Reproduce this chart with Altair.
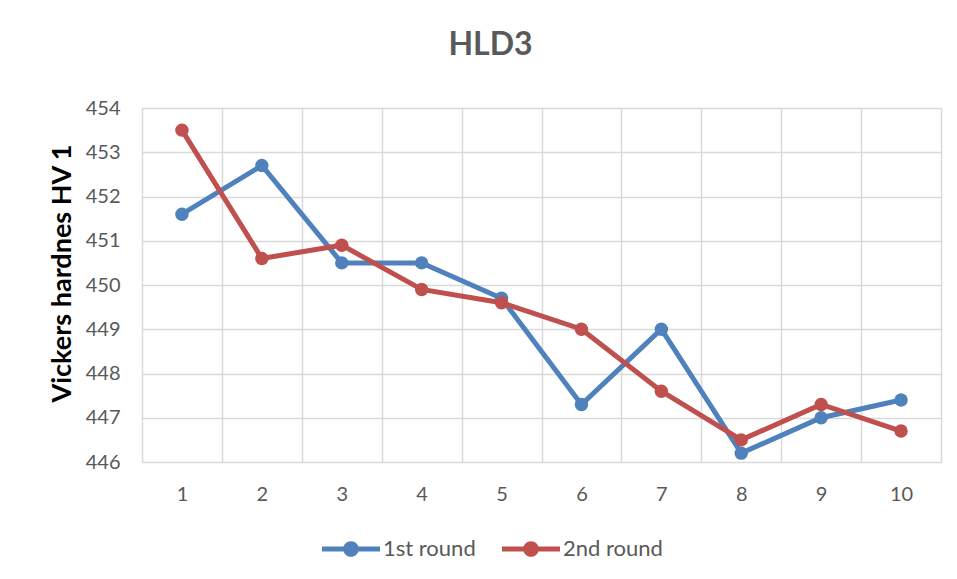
import altair as alt
import pandas as pd

samples = [1, 2, 3, 4, 5, 6, 7, 8, 9, 10]
round1 = [451.6, 452.7, 450.5, 450.5, 449.7, 447.3, 449.0, 446.2, 447.0, 447.4]
round2 = [453.5, 450.6, 450.9, 449.9, 449.6, 449.0, 447.6, 446.5, 447.3, 446.7]
series_names = ["1st round", "2nd round"]
series_colors = ["#4F81BD", "#C0504D"]
y_ticks = [446, 447, 448, 449, 450, 451, 452, 453, 454]

rows = []
for s, vals in zip(series_names, [round1, round2]):
    for x, v in zip(samples, vals):
        rows.append({"sample": x, "value": v, "series": s})
df = pd.DataFrame(rows)

FONT = "Lato"
GREY = "#595959"
GRID = "#D9D9D9"

legend_path = ("M-1,-0.086H1V0.086H-1Z "
               "M-0.27,0A0.27,0.27,0,1,1,0.27,0A0.27,0.27,0,1,1,-0.27,0Z")

x_enc = alt.X("sample:O", sort=samples,
              scale=alt.Scale(paddingInner=0, paddingOuter=0),
              axis=alt.Axis(title=None, labelAngle=0, tickBand="extent", grid=True,
                            gridColor=GRID, gridWidth=1.5, ticks=False, domain=False,
                            labelPadding=22, labelFontSize=20, labelColor=GREY,
                            labelFont=FONT))
y_enc = alt.Y("value:Q",
              scale=alt.Scale(domain=[446, 454], nice=False, zero=False),
              axis=alt.Axis(values=y_ticks, title="Vickers hardnes HV 1", grid=True,
                            gridColor=GRID, gridWidth=1.5, ticks=False, domain=False,
                            labelPadding=22, labelFontSize=20, labelColor=GREY,
                            labelFont=FONT, titleFont=FONT, titleFontSize=27,
                            titleFontWeight="bold", titleColor="#000000",
                            titleX=-80, titleY=165, titleAngle=-90,
                            titleAlign="center", titleBaseline="middle"))
color_enc = alt.Color("series:N",
                      scale=alt.Scale(domain=series_names, range=series_colors),
                      legend=alt.Legend(title=None, orient="none", direction="horizontal",
                                        legendX=180, legendY=412,
                                        symbolType=legend_path, symbolSize=3364,
                                        symbolStrokeWidth=0, labelFont=FONT,
                                        labelFontSize=22, labelColor=GREY,
                                        labelOffset=3, columnPadding=26))

base = alt.Chart(df).encode(x=x_enc, y=y_enc, color=color_enc, detail="series:N")

lines = base.mark_line(strokeWidth=5)
points = base.mark_circle(size=180, opacity=1)

chart = alt.layer(lines, points).properties(
    width=799, height=354,
    title=alt.TitleParams("HLD3", font=FONT, fontSize=32, fontWeight="bold",
                          color=GREY, anchor="middle", dx=-51, offset=36),
    autosize=alt.AutoSizeParams(type="none"),
    padding={"left": 134, "top": 100, "right": 8, "bottom": 109},
).configure_view(stroke=None).configure(background="white")

chart.save("out.html", embed_options={"renderer": "svg", "actions": False})
